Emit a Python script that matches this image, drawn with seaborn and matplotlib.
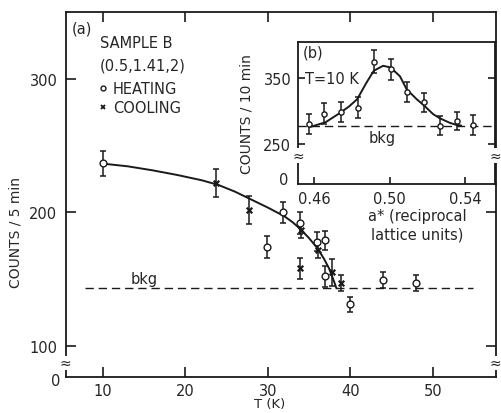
import pandas as pd
import matplotlib.pyplot as plt
import seaborn as sns
from matplotlib.lines import Line2D

# (a) counts per 5 min vs temperature, sample B at (0.5, 1.41, 2)
heat_T = [10.0, 29.9, 31.8, 33.9, 35.9, 36.9, 36.9, 40.0, 43.9, 48.0]
heat_counts = [236.7, 174.0, 200.0, 192.0, 178.0, 179.0, 152.0, 131.0, 149.0, 147.0]
heat_err = [9.5, 8.0, 8.0, 8.0, 7.0, 7.0, 8.0, 5.5, 6.0, 6.0]

cool_T = [23.7, 27.7, 33.9, 34.0, 36.1, 37.8, 38.8]
cool_counts = [222.0, 201.5, 158.0, 187.0, 172.0, 155.0, 147.0]
cool_err = [10.5, 10.5, 8.0, 6.0, 6.0, 10.0, 6.0]

# solid guide curve
fit_T = [10, 13, 16, 19, 22, 24, 26, 28, 30, 32, 33, 34, 35, 36, 36.8, 37.4, 37.9, 38.3]
fit_counts = [236.5, 234.5, 231.5, 228, 224, 220.5, 215.5, 209.5, 203.5, 197, 192.5,
              187, 180.5, 173, 165, 158, 150, 143]

bkg_main = 143
bkg_T = [7.8, 54.8]

# (b) scan at T = 10 K, counts per 10 min vs a*
scan_a = [0.457, 0.465, 0.474, 0.483, 0.4915, 0.5005, 0.509, 0.518, 0.5265, 0.536, 0.544]
scan_counts = [280, 296, 299, 305, 375, 363, 329, 313, 278, 285, 279]
scan_err = [15, 16, 15, 16, 17, 16, 15, 15, 14, 14, 15]

peak_a = [0.458, 0.466, 0.4736, 0.4785, 0.4828, 0.4877, 0.4916, 0.4965, 0.5005,
          0.5055, 0.509, 0.5143, 0.518, 0.523, 0.5266, 0.532, 0.5354, 0.538]
peak_counts = [276, 283, 297, 307, 318, 343, 361, 368.5, 366, 352.5, 333, 318, 309,
               295.5, 289, 282, 279, 278]
bkg_inset = 278

sns.set_theme(style="ticks")
plt.rcParams['font.family'] = ['DejaVu Sans']
plt.rcParams['axes.linewidth'] = 1.3

W, H = 501, 414
fig = plt.figure(figsize=(W / 100, H / 100), dpi=100)

# ---- main panel ----
ax = fig.add_axes([65.7 / W, 1 - 378 / H, 429.8 / W, 364.7 / H])
ax.hlines(bkg_main, bkg_T[0], bkg_T[1], colors='k', linewidth=1.0,
          linestyles=(0, (6, 3.5)))
sns.lineplot(x=fit_T, y=fit_counts, ax=ax, color='k', linewidth=1.4,
             sort=False, estimator=None)
ax.errorbar(heat_T, heat_counts, yerr=heat_err, fmt='none', ecolor='k',
            elinewidth=1.1, capsize=2.5, capthick=1.1, zorder=3)
ax.errorbar(cool_T, cool_counts, yerr=cool_err, fmt='none', ecolor='k',
            elinewidth=1.1, capsize=2.5, capthick=1.1, zorder=3)
sns.scatterplot(x=heat_T, y=heat_counts, ax=ax, marker='o', s=24, color='white',
                edgecolor='k', linewidth=1.0, zorder=4)
sns.scatterplot(x=cool_T, y=cool_counts, ax=ax, marker='x', s=16, color='k',
                linewidth=1.6, zorder=4)

ax.set_xlim(5.48, 57.58)
ax.set_ylim(76.5, 350)
ax.set_xticks([10, 20, 30, 40, 50])
ax.set_yticks([100, 200, 300])
ax.tick_params(direction='in', length=7.5, width=1.2, labelsize=10.5, pad=6,
               top=True, right=True, color='k')
ax.tick_params(axis='x', pad=4.5)
ax.set_xlabel('T (K)', fontsize=9.5)
ax.set_ylabel('COUNTS / 5 min', fontsize=10)
ax.xaxis.set_label_coords(0.475, -0.056)
ax.yaxis.set_label_coords(-0.10, 0.40)
for s in ax.spines.values():
    s.set_color('k')

ax.text(-0.012, -0.01, '0', transform=ax.transAxes, ha='right', va='center',
        fontsize=10.5)
for xf in (0, 1):
    ax.text(xf, 0.038, '≈', transform=ax.transAxes, ha='center', va='center',
            fontsize=10, clip_on=False, zorder=10,
            bbox=dict(facecolor='white', edgecolor='none', pad=0.2))

ax.text(0.0145, 0.957, '(a)', transform=ax.transAxes, ha='left', va='center',
        fontsize=10.5)
ax.text(0.080, 0.916, 'SAMPLE B', transform=ax.transAxes, ha='left', va='center',
        fontsize=10.5)
ax.text(0.080, 0.855, '(0.5,1.41,2)', transform=ax.transAxes, ha='left',
        va='center', fontsize=10.5)
handles = [Line2D([], [], marker='o', ls='none', mfc='white', mec='k', ms=3.5, mew=1.0),
           Line2D([], [], marker='x', ls='none', color='k', ms=3.5, mew=1.3)]
ax.legend(handles, ['HEATING', 'COOLING'], loc='upper left',
          bbox_to_anchor=(0.056, 0.835), frameon=False, fontsize=10.5,
          handlelength=0.6, handletextpad=0.4, labelspacing=0.25,
          borderpad=0.1)
ax.text(15, 150, 'bkg', ha='center', va='center', fontsize=10.5)

# ---- inset (b) ----
axin = fig.add_axes([298.3 / W, 1 - 185 / H, 197.2 / W, 142.3 / H])
axin.set_facecolor('white')
axin.axhline(bkg_inset, color='k', linewidth=1.0, linestyle=(0, (6, 3.5)))
sns.lineplot(x=peak_a, y=peak_counts, ax=axin, color='k', linewidth=1.4,
             sort=False, estimator=None)
axin.errorbar(scan_a, scan_counts, yerr=scan_err, fmt='none', ecolor='k',
              elinewidth=1.1, capsize=2.5, capthick=1.1, zorder=3)
sns.scatterplot(x=scan_a, y=scan_counts, ax=axin, marker='o', s=14, color='white',
                edgecolor='k', linewidth=1.0, zorder=4)
axin.set_xlim(0.4515, 0.5562)
axin.set_ylim(189.4, 405)
axin.set_xticks([0.46, 0.50, 0.54])
axin.set_xticklabels(['0.46', '0.50', '0.54'])
axin.set_yticks([250, 350])
axin.tick_params(direction='in', length=5, width=1.2, labelsize=10.5, pad=5,
                 right=True, color='k')
axin.set_xlabel('')
axin.set_ylabel('COUNTS / 10 min', fontsize=10)
axin.yaxis.set_label_coords(-0.225, 0.50)
for s in axin.spines.values():
    s.set_color('k')
axin.text(-0.05, 0.035, '0', transform=axin.transAxes, ha='right', va='center',
          fontsize=10.5)
for xf in (0, 1):
    axin.text(xf, 0.2, '≈', transform=axin.transAxes, ha='center', va='center',
              fontsize=10, clip_on=False, zorder=10,
              bbox=dict(facecolor='white', edgecolor='none', pad=0.2))
axin.text(0.024, 0.928, '(b)', transform=axin.transAxes, ha='left', va='center',
          fontsize=10.5)
axin.text(0.034, 0.738, 'T=10 K', transform=axin.transAxes, ha='left',
          va='center', fontsize=10.5)
axin.text(0.4958, 260.6, 'bkg', ha='center', va='center', fontsize=10.5)

fig.text(417 / W, 1 - 217 / H, 'a* (reciprocal', ha='center', va='center',
         fontsize=10.5)
fig.text(417 / W, 1 - 235 / H, 'lattice units)', ha='center', va='center',
         fontsize=10.5)

fig.savefig('out.png', dpi=100)
plt.close(fig)
